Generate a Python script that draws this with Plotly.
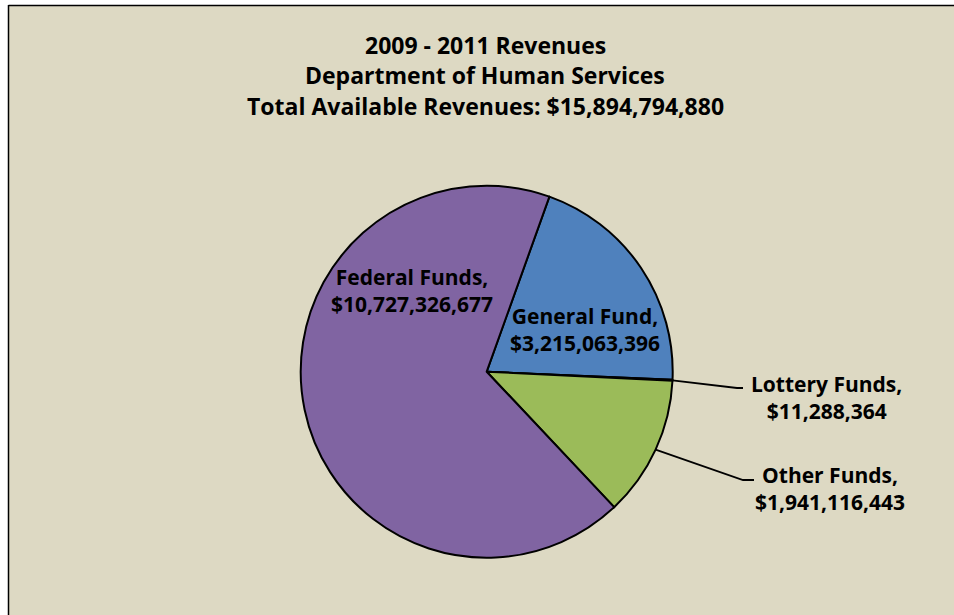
import math
import plotly.graph_objects as go

W, H = 954, 615

# Data
categories = ["General Fund", "Lottery Funds", "Other Funds", "Federal Funds"]
values = [3215063396, 11288364, 1941116443, 10727326677]
colors = ["#4F81BD", "#C0504D", "#9BBB59", "#8064A2"]
title_lines = ["2009 - 2011 Revenues", "Department of Human Services",
               "Total Available Revenues: $15,894,794,880"]

FONT = "Open Sans, Noto Sans, sans-serif"
BG = "#DDD9C3"

# Pie geometry (pixels)
cx, cy, R = 486.7, 371.7, 186.0
rotation = 19.7

def px(x):
    return x / W

def py(y):
    return 1 - y / H

fig = go.Figure(go.Pie(
    labels=categories, values=values, sort=False, direction="clockwise",
    rotation=rotation, marker=dict(colors=colors, line=dict(color="black", width=2)),
    textinfo="none", hoverinfo="label+value", showlegend=False,
    domain=dict(x=[px(cx - R), px(cx + R)], y=[py(cy + R), py(cy - R)]),
))

annotations = []
title_y = [45, 75, 106]
for t, y in zip(title_lines, title_y):
    annotations.append(dict(text="<b>%s</b>" % t, x=px(485), y=py(y), xref="paper", yref="paper",
                            showarrow=False, font=dict(family=FONT, size=23, color="black"),
                            xanchor="center", yanchor="middle"))

def fmt(v):
    return "$" + format(v, ",")

# label positions (pixel centers)
label_pos = {
    "Federal Funds": (412, 290),
    "General Fund": (585, 329),
    "Lottery Funds": (826, 397),
    "Other Funds": (830, 488),
}
for c, v in zip(categories, values):
    x, y = label_pos[c]
    annotations.append(dict(text="<b>%s,<br>%s</b>" % (c, fmt(v)), x=px(x), y=py(y),
                            xref="paper", yref="paper", showarrow=False, align="center",
                            font=dict(family=FONT, size=21, color="black"),
                            xanchor="center", yanchor="middle"))

# leader lines from slice mid-angles
total = sum(values)
cum = 0
mids = {}
for c, v in zip(categories, values):
    a = rotation + 360 * (cum + v / 2) / total
    mids[c] = a
    cum += v

leader_ends = {"Lottery Funds": [(737, 388), (743, 388)], "Other Funds": [(743, 480), (754, 480)]}
shapes = []
for c, pts in leader_ends.items():
    a = math.radians(mids[c])
    sx, sy = cx + R * math.sin(a), cy - R * math.cos(a)
    path_pts = [(sx, sy)] + pts
    d = "M " + " L ".join("%f,%f" % (px(x), py(y)) for x, y in path_pts)
    shapes.append(dict(type="path", path=d, xref="paper", yref="paper",
                       line=dict(color="black", width=1.8)))

# page margin (white) and chart border
shapes.append(dict(type="rect", xref="paper", yref="paper", x0=0, x1=px(8), y0=0, y1=1,
                   fillcolor="white", line=dict(width=0)))
shapes.append(dict(type="rect", xref="paper", yref="paper", x0=0, x1=1, y0=py(5), y1=1,
                   fillcolor="white", line=dict(width=0)))
shapes.append(dict(type="line", xref="paper", yref="paper", x0=px(8.5), x1=px(8.5), y0=0, y1=py(5),
                   line=dict(color="black", width=1.5)))
shapes.append(dict(type="line", xref="paper", yref="paper", x0=px(8.5), x1=1, y0=py(5.5), y1=py(5.5),
                   line=dict(color="black", width=1.5)))

fig.update_layout(width=W, height=H, margin=dict(l=0, r=0, t=0, b=0),
                  paper_bgcolor=BG, plot_bgcolor=BG,
                  annotations=annotations, shapes=shapes)

fig.write_html("out.html", config={"displayModeBar": False},
               post_script="document.body.style.margin='0';document.body.style.overflow='hidden';")
